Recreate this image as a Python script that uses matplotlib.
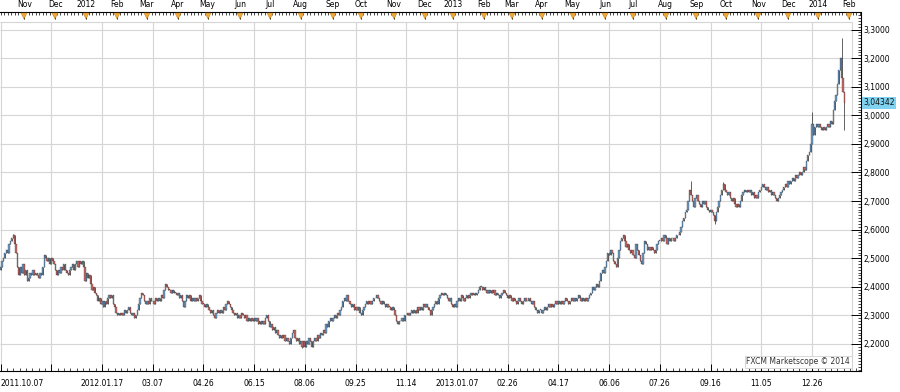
import matplotlib
matplotlib.use("Agg")
import matplotlib.pyplot as plt
import matplotlib.transforms as mtransforms
from matplotlib.ticker import MultipleLocator
import numpy as np
import pandas as pd

# daily closes, one list per 36-bar grid section (first date of section in comment)
seg00 = [2.47, 2.49, 2.50, 2.52, 2.53, 2.52, 2.55, 2.56, 2.57, 2.58, 2.55, 2.52,
         2.47, 2.44, 2.47, 2.45, 2.48, 2.44, 2.46, 2.42, 2.43, 2.45, 2.44, 2.46,
         2.44, 2.45, 2.44, 2.43, 2.45, 2.44, 2.47, 2.51, 2.50, 2.49, 2.50, 2.48]  # 2011.10.07
seg01 = [2.50, 2.49, 2.48, 2.46, 2.44, 2.46, 2.45, 2.47, 2.46, 2.48, 2.46, 2.45,
         2.44, 2.46, 2.47, 2.48, 2.46, 2.48, 2.49, 2.47, 2.49, 2.48, 2.49, 2.47,
         2.42, 2.45, 2.43, 2.44, 2.41, 2.39, 2.40, 2.38, 2.37, 2.35, 2.36, 2.34]  # 2011.11.25
seg02 = [2.35, 2.33, 2.35, 2.34, 2.36, 2.37, 2.36, 2.37, 2.34, 2.33, 2.31, 2.30,
         2.31, 2.30, 2.31, 2.30, 2.32, 2.31, 2.32, 2.33, 2.31, 2.30, 2.31, 2.29,
         2.30, 2.32, 2.34, 2.36, 2.38, 2.37, 2.35, 2.34, 2.35, 2.34, 2.36, 2.35]  # 2012.01.17
seg03 = [2.35, 2.34, 2.36, 2.35, 2.36, 2.35, 2.37, 2.36, 2.39, 2.41, 2.40, 2.39,
         2.39, 2.38, 2.39, 2.38, 2.38, 2.37, 2.38, 2.36, 2.37, 2.35, 2.33, 2.35,
         2.37, 2.36, 2.37, 2.35, 2.36, 2.35, 2.36, 2.35, 2.36, 2.37, 2.35, 2.34]  # 03.07
seg04 = [2.34, 2.33, 2.34, 2.33, 2.32, 2.31, 2.32, 2.30, 2.29, 2.31, 2.32, 2.31,
         2.32, 2.31, 2.33, 2.32, 2.34, 2.35, 2.34, 2.33, 2.32, 2.31, 2.30, 2.31,
         2.29, 2.30, 2.29, 2.31, 2.30, 2.29, 2.30, 2.28, 2.29, 2.28, 2.29, 2.28]  # 04.26
seg05 = [2.29, 2.28, 2.29, 2.27, 2.28, 2.27, 2.28, 2.27, 2.29, 2.30, 2.28, 2.26,
         2.27, 2.25, 2.26, 2.24, 2.25, 2.23, 2.22, 2.23, 2.22, 2.23, 2.21, 2.22,
         2.21, 2.20, 2.22, 2.24, 2.25, 2.22, 2.21, 2.22, 2.20, 2.21, 2.19, 2.21]  # 06.15
seg06 = [2.19, 2.21, 2.20, 2.22, 2.21, 2.19, 2.21, 2.22, 2.21, 2.23, 2.22, 2.24,
         2.23, 2.25, 2.24, 2.27, 2.26, 2.28, 2.29, 2.28, 2.29, 2.30, 2.29, 2.31,
         2.30, 2.32, 2.33, 2.35, 2.36, 2.35, 2.37, 2.35, 2.34, 2.33, 2.34, 2.32]  # 08.06
seg07 = [2.33, 2.32, 2.33, 2.31, 2.30, 2.32, 2.33, 2.34, 2.35, 2.34, 2.35, 2.34,
         2.35, 2.36, 2.36, 2.37, 2.36, 2.35, 2.34, 2.35, 2.34, 2.33, 2.34, 2.33,
         2.33, 2.32, 2.33, 2.32, 2.30, 2.28, 2.27, 2.28, 2.28, 2.29, 2.28, 2.30]  # 09.25
seg08 = [2.30, 2.31, 2.30, 2.31, 2.32, 2.31, 2.32, 2.31, 2.33, 2.32, 2.33, 2.32,
         2.34, 2.33, 2.34, 2.33, 2.32, 2.30, 2.32, 2.33, 2.34, 2.35, 2.34, 2.36,
         2.37, 2.38, 2.37, 2.38, 2.37, 2.36, 2.35, 2.36, 2.34, 2.33, 2.34, 2.33]  # 11.14
seg09 = [2.35, 2.36, 2.35, 2.37, 2.36, 2.35, 2.36, 2.37, 2.36, 2.37, 2.38, 2.37,
         2.38, 2.37, 2.38, 2.39, 2.40, 2.40, 2.39, 2.40, 2.39, 2.38, 2.39, 2.38,
         2.39, 2.38, 2.39, 2.37, 2.38, 2.37, 2.36, 2.37, 2.38, 2.39, 2.38, 2.37]  # 2013.01.07
seg10 = [2.36, 2.37, 2.36, 2.35, 2.36, 2.35, 2.34, 2.35, 2.36, 2.35, 2.34, 2.35,
         2.36, 2.35, 2.35, 2.36, 2.35, 2.34, 2.35, 2.33, 2.32, 2.31, 2.32, 2.32,
         2.31, 2.32, 2.33, 2.32, 2.33, 2.34, 2.33, 2.34, 2.33, 2.34, 2.35, 2.34]  # 02.26
seg11 = [2.35, 2.34, 2.35, 2.34, 2.35, 2.36, 2.35, 2.34, 2.35, 2.36, 2.35, 2.36,
         2.35, 2.36, 2.37, 2.36, 2.35, 2.36, 2.35, 2.36, 2.35, 2.36, 2.37, 2.38,
         2.40, 2.39, 2.40, 2.41, 2.40, 2.42, 2.45, 2.46, 2.45, 2.47, 2.49, 2.52]  # 04.17
seg12 = [2.51, 2.53, 2.52, 2.49, 2.48, 2.47, 2.50, 2.53, 2.56, 2.57, 2.58, 2.56,
         2.54, 2.55, 2.53, 2.52, 2.53, 2.51, 2.50, 2.55, 2.53, 2.51, 2.49, 2.48,
         2.52, 2.56, 2.55, 2.53, 2.54, 2.53, 2.54, 2.53, 2.52, 2.53, 2.55, 2.56]  # 06.06
seg13 = [2.56, 2.57, 2.56, 2.58, 2.57, 2.55, 2.57, 2.56, 2.57, 2.57, 2.56, 2.57,
         2.58, 2.58, 2.59, 2.61, 2.63, 2.64, 2.66, 2.67, 2.70, 2.74, 2.72, 2.70,
         2.68, 2.71, 2.72, 2.70, 2.69, 2.68, 2.70, 2.69, 2.70, 2.68, 2.67, 2.66]  # 07.26
seg14 = [2.67, 2.66, 2.65, 2.63, 2.66, 2.68, 2.70, 2.72, 2.74, 2.76, 2.74, 2.73,
         2.72, 2.73, 2.71, 2.70, 2.71, 2.69, 2.68, 2.69, 2.68, 2.70, 2.72, 2.73,
         2.74, 2.73, 2.74, 2.73, 2.74, 2.72, 2.73, 2.71, 2.72, 2.71, 2.73, 2.74]  # 09.16
seg15 = [2.75, 2.76, 2.75, 2.74, 2.75, 2.73, 2.74, 2.72, 2.73, 2.72, 2.71, 2.70,
         2.71, 2.72, 2.73, 2.74, 2.75, 2.76, 2.75, 2.77, 2.76, 2.77, 2.78, 2.77,
         2.79, 2.78, 2.79, 2.80, 2.79, 2.80, 2.82, 2.81, 2.84, 2.86, 2.87, 2.90]  # 11.05
seg16 = [2.97, 2.93, 2.96, 2.97, 2.96, 2.97, 2.96, 2.95, 2.96, 2.95, 2.96, 2.97,
         2.96, 2.98, 2.97, 3.02, 3.05, 3.07, 3.11, 3.16, 3.20, 3.13, 3.08, 3.04342]  # 12.26

first_open = 2.46
# wicks that stick out well beyond the bodies
spike_high_idx = [9, 490, 513, 576, 597]
spike_high_val = [2.585, 2.77, 2.765, 3.01, 3.27]
spike_low_idx = [214, 507, 599]
spike_low_val = [2.185, 2.62, 2.95]

price_ticks = [2.2, 2.3, 2.4, 2.5, 2.6, 2.7, 2.8, 2.9, 3.0, 3.1, 3.2, 3.3]
last_price_label = "3,04342"
credit = "FXCM Marketscope \u00a9 2014"

closes = np.array(seg00 + seg01 + seg02 + seg03 + seg04 + seg05 + seg06 + seg07 + seg08
                  + seg09 + seg10 + seg11 + seg12 + seg13 + seg14 + seg15 + seg16)
n = len(closes)

# trading days: weekdays without Christmas and New Year's day
days = pd.bdate_range("2011-10-07", "2014-03-03")
days = days[~(((days.month == 12) & (days.day == 25)) | ((days.month == 1) & (days.day == 1)))]

# ---- layout in pixels (900 x 392 canvas) ----
W, H = 900, 392
PX_PER_BAR = 1.4089
AX_TOP, AX_BOT, AX_RIGHT = 12.5, 371.0, 861.0
GRID_TOP, GRID_RIGHT = 22.0, 852.0
Y_REF, Y_REF_PX, PX_PER_UNIT = 3.3, 29.5, 285.9

UP = "#6b9cc8"
DOWN = "#c96a66"
WICK = "#262626"
GRID = "#d5d5d5"


def px_to_val(y):
    return Y_REF - (y - Y_REF_PX) / PX_PER_UNIT


def px_to_idx(x):
    return (x - 0.5) / PX_PER_BAR


fig = plt.figure(figsize=(W / 100, H / 100), dpi=100)
ax = fig.add_axes([0, 1 - AX_BOT / H, AX_RIGHT / W, (AX_BOT - AX_TOP) / H])
xmin, xmax = px_to_idx(0), px_to_idx(AX_RIGHT)
ymin, ymax = px_to_val(AX_BOT), px_to_val(AX_TOP)
ax.set_xlim(xmin, xmax)
ax.set_ylim(ymin, ymax)

# grid + light frame of the plotting area
grid_idx = np.arange(0, n, 36)
x_right = px_to_idx(GRID_RIGHT)
y_top = px_to_val(GRID_TOP)
ax.vlines(grid_idx, ymin, y_top, color=GRID, lw=0.8, zorder=0)
ax.hlines(price_ticks, xmin, x_right, color=GRID, lw=0.8, zorder=0)
ax.hlines(y_top, xmin, x_right, color=GRID, lw=0.8, zorder=0)
ax.vlines(x_right, ymin, y_top, color=GRID, lw=0.8, zorder=0)

# candles
x = np.arange(n)
opens = np.r_[first_open, closes[:-1]]
highs = np.maximum(opens, closes)
lows = np.minimum(opens, closes)
highs[spike_high_idx] = np.maximum(highs[spike_high_idx], spike_high_val)
lows[spike_low_idx] = np.minimum(lows[spike_low_idx], spike_low_val)
up = closes >= opens
body = np.maximum(np.abs(closes - opens), 0.002)
bottom = np.minimum(opens, closes)

ax.vlines(x, lows, highs, color=WICK, lw=0.5, zorder=2)
ax.bar(x[up], body[up], bottom=bottom[up], width=0.85, color=UP,
       edgecolor=WICK, linewidth=0.2, zorder=3)
ax.bar(x[~up], body[~up], bottom=bottom[~up], width=0.85, color=DOWN,
       edgecolor=WICK, linewidth=0.2, zorder=3)

# bottom ruler: date labels every 36 bars
labels = []
for k, i in enumerate(grid_idx):
    d = days[i]
    if k == 1:
        labels.append("")
    elif k == 0 or d.year != days[grid_idx[k - 1]].year:
        labels.append(d.strftime("%Y.%m.%d"))
    else:
        labels.append(d.strftime("%m.%d"))
ax.set_xticks(grid_idx, labels)
ax.set_xticks(np.arange(0, xmax, 4.5), minor=True)
ax.get_xticklabels()[0].set_horizontalalignment("left")
ax.tick_params(axis="x", which="major", direction="in", length=5, width=0.7,
               pad=6, labelsize=5.5, top=False)
ax.tick_params(axis="x", which="minor", direction="in", length=2, width=0.5, top=False)

# right price scale
ax.yaxis.tick_right()
ax.set_yticks(price_ticks, [f"{v:.4f}".replace(".", ",") for v in price_ticks])
ax.yaxis.set_minor_locator(MultipleLocator(0.01))
ax.tick_params(axis="y", which="major", direction="in", length=7, width=0.7,
               pad=2, labelsize=5.5, left=False)
ax.tick_params(axis="y", which="minor", direction="in", length=2.5, width=0.5, left=False)

for side in ("left", "top"):
    ax.spines[side].set_visible(False)
for side in ("right", "bottom"):
    ax.spines[side].set_linewidth(0.8)

# top ruler: month starts
month_idx = [i for i in range(1, len(days)) if days[i].month != days[i - 1].month and i < xmax]
month_lab = [str(days[i].year) if days[i].month == 1 else days[i].strftime("%b") for i in month_idx]
sec = ax.secondary_xaxis("top")
sec.set_xticks(month_idx, month_lab)
sec.set_xticks(np.arange(0, xmax, 2.5), minor=True)
sec.tick_params(axis="x", which="major", direction="in", length=5, width=0.7,
                pad=2.5, labelsize=5.5)
sec.tick_params(axis="x", which="minor", direction="in", length=2, width=0.5)
sec.spines["top"].set_linewidth(0.8)

tri = mtransforms.blended_transform_factory(ax.transData, ax.transAxes)
ax.plot(month_idx, np.full(len(month_idx), 1 - 3.5 / (AX_BOT - AX_TOP)), transform=tri,
        marker="v", ms=3.8, color="#f2a93b", mec="#b8790f", mew=0.3, ls="none",
        clip_on=False, zorder=6)

# last price tag on the scale
tag = mtransforms.blended_transform_factory(ax.transAxes, ax.transData)
ax.text(1 + 2.5 / AX_RIGHT, closes[-1], last_price_label, transform=tag, ha="left",
        va="center", fontsize=5.5, color="#111111", clip_on=False,
        bbox=dict(boxstyle="square,pad=0.15", fc="#7fd3f0", ec="none"))

ax.text(px_to_idx(850), px_to_val(362), credit, ha="right", va="center", fontsize=5.5,
        color="#333333", zorder=5,
        bbox=dict(boxstyle="square,pad=0.2", fc="white", ec="#c8c8c8", lw=0.5))

fig.savefig("out.png", dpi=100)
